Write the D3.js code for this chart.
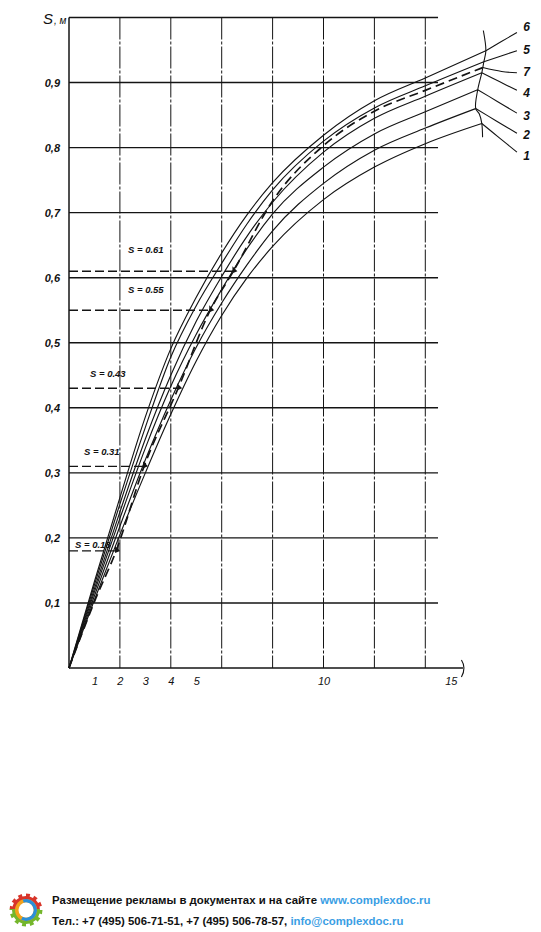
<!DOCTYPE html>
<html><head><meta charset="utf-8">
<script src="https://cdn.jsdelivr.net/npm/d3@7"></script>
<style>
body{margin:0;background:#fff;}
svg{display:block;}
.hand{font-family:"Liberation Sans",Arial,sans-serif;font-style:italic;fill:#111;}
.foot{font-family:"Liberation Sans",Arial,sans-serif;font-weight:bold;font-size:11.4px;fill:#111;}
</style></head>
<body>
<svg id="c" width="541" height="932"></svg>
<script>
// ---- data ----
const tGrid = [0, 1, 2, 3, 4, 5, 6, 7, 8, 10, 12, 14];
const curve1 = [0, 0.105, 0.205, 0.300, 0.390, 0.472, 0.542, 0.600, 0.648, 0.720, 0.770, 0.806];
const curve2 = [0, 0.111, 0.218, 0.320, 0.412, 0.493, 0.561, 0.620, 0.672, 0.745, 0.796, 0.830];
const curve3 = [0, 0.117, 0.230, 0.338, 0.433, 0.513, 0.582, 0.645, 0.698, 0.770, 0.821, 0.855];
const curve4 = [0, 0.122, 0.240, 0.352, 0.450, 0.533, 0.602, 0.664, 0.716, 0.793, 0.845, 0.879];
const curve5 = [0, 0.128, 0.252, 0.370, 0.478, 0.557, 0.622, 0.683, 0.735, 0.810, 0.861, 0.895];
const curve6 = [0, 0.133, 0.262, 0.386, 0.491, 0.570, 0.638, 0.697, 0.746, 0.819, 0.872, 0.907];
// end points of curves 1..6 (t, S)
const endT = [16.22, 15.98, 16.06, 16.22, 16.30, 16.38];
const endS = [0.837, 0.860, 0.889, 0.915, 0.932, 0.949];
// curve 7 (dashed)
const curve7T = [0, 1, 1.85, 2.95, 4.29, 5.55, 6.46, 8, 10, 12, 14, 16.26];
const curve7S = [0, 0.102, 0.18, 0.31, 0.43, 0.55, 0.61, 0.718, 0.803, 0.856, 0.888, 0.923];
// measured levels
const levelS = [0.61, 0.55, 0.43, 0.31, 0.18];
const levelT = [6.46, 5.55, 4.29, 2.95, 1.85];
const levelText = ["S = 0.61", "S = 0.55", "S = 0.43", "S = 0.31", "S = 0.18"];
// curve labels
const curveNames = ["6", "5", "7", "4", "3", "2", "1"];
const labelS = [0.985, 0.951, 0.917, 0.885, 0.849, 0.819, 0.788];
const leaderS = [0.977, 0.949, 0.915, 0.888, 0.853, 0.822, 0.793];
// ticks
const xTicks = [1, 2, 3, 4, 5, 10, 15];
const xGrid = [2, 4, 6, 8, 10, 12, 14];
const yTicks = [0.1, 0.2, 0.3, 0.4, 0.5, 0.6, 0.7, 0.8, 0.9];
const yGrid = [0.1, 0.2, 0.3, 0.4, 0.5, 0.6, 0.7, 0.8, 0.9, 1.0];

// ---- drawing ----
const svg = d3.select("#c");
const x = d3.scaleLinear().domain([0, 15]).range([69, 450.75]);
const y = d3.scaleLinear().domain([0, 1]).range([668, 17.5]);
const ink = "#141414";

// grid
svg.append("g").selectAll("line").data(yGrid).join("line")
  .attr("x1", x(0)).attr("x2", x(14.5)).attr("y1", d => y(d)).attr("y2", d => y(d))
  .attr("stroke", ink).attr("stroke-width", 1.4);
svg.append("g").selectAll("line").data(xGrid).join("line")
  .attr("x1", d => x(d)).attr("x2", d => x(d)).attr("y1", y(1)).attr("y2", y(0))
  .attr("stroke", ink).attr("stroke-width", 1).attr("stroke-dasharray", "22,2,3,2");

// axes
const xAxis = d3.axisBottom(x).tickValues(xTicks).tickSize(0).tickPadding(9).tickFormat(d3.format("d"));
const gx = svg.append("g").attr("transform", `translate(0,${y(0)})`).call(xAxis);
gx.select(".domain").remove();
gx.selectAll("text").attr("class", "hand").attr("font-size", 11).attr("fill", ink);
svg.append("line").attr("x1", x(0)).attr("x2", x(15.48)).attr("y1", y(0)).attr("y2", y(0))
  .attr("stroke", ink).attr("stroke-width", 1.6);
svg.append("path").attr("d", `M${x(15.42)},${y(0)-8} Q${x(15.62)},${y(0)} ${x(15.42)},${y(0)+9}`)
  .attr("fill", "none").attr("stroke", ink).attr("stroke-width", 1.1);

const yAxis = d3.axisLeft(y).tickValues(yTicks).tickSize(0).tickPadding(9).tickFormat(d => d3.format(".1f")(d).replace(".", ","));
const gy = svg.append("g").attr("transform", `translate(${x(0)},0)`).call(yAxis);
gy.select(".domain").remove();
gy.selectAll("text").attr("class", "hand").attr("font-size", 11).attr("font-weight", "bold").attr("fill", ink);
svg.append("line").attr("x1", x(0)).attr("x2", x(0)).attr("y1", y(1)).attr("y2", y(0))
  .attr("stroke", ink).attr("stroke-width", 1.5);

// axis title
const tt = svg.append("text").attr("class", "hand").attr("x", 43).attr("y", 24);
tt.append("tspan").attr("font-size", 15).text("S");
tt.append("tspan").attr("font-size", 10).attr("dx", 1).text(", м");

// curves
const line = d3.line().x(d => x(d[0])).y(d => y(d[1])).curve(d3.curveMonotoneX);
const solid = [curve1, curve2, curve3, curve4, curve5, curve6];
solid.forEach((c, i) => {
  const pts = tGrid.map((t, j) => [t, c[j]]).concat([[endT[i], endS[i]]]);
  svg.append("path").attr("d", line(pts)).attr("fill", "none")
    .attr("stroke", ink).attr("stroke-width", 1.15);
});
svg.append("path").attr("d", line(curve7T.map((t, j) => [t, curve7S[j]])))
  .attr("fill", "none").attr("stroke", ink).attr("stroke-width", 1.7)
  .attr("stroke-dasharray", "9,5");

// measured levels
levelS.forEach((s, i) => {
  svg.append("line").attr("x1", x(0)).attr("x2", x(levelT[i])).attr("y1", y(s)).attr("y2", y(s))
    .attr("stroke", ink).attr("stroke-width", 1.4).attr("stroke-dasharray", "9,4");
  const px = x(levelT[i]), py = y(s);
  svg.append("path").attr("d", `M${px-1},${py-5} L${px+4},${py} L${px-1},${py+2} Z`).attr("fill", ink);
});
const textPos = [[128, 0.638], [128, 0.576], [90, 0.447], [84, 0.327], [75, 0.184]];
levelText.forEach((tx, i) => {
  svg.append("text").attr("class", "hand").attr("font-size", 9.5).attr("font-weight", "bold")
    .attr("x", textPos[i][0]).attr("y", y(textPos[i][1])).text(tx);
});
// small box edge for S=0.18
svg.append("line").attr("x1", x(1.93)).attr("x2", x(1.93)).attr("y1", y(0.2)).attr("y2", y(0.18))
  .attr("stroke", ink).attr("stroke-width", 1);

// bracket through curve ends
const ends = [[16.28, 0.98], [endT[5], endS[5]], [endT[4], endS[4]], [curve7T[11], curve7S[11]],
  [endT[3], endS[3]], [endT[2], endS[2]], [endT[1], endS[1]], [16.12, 0.852], [endT[0], endS[0]], [16.25, 0.816]];
const bline = d3.line().x(d => x(d[0])).y(d => y(d[1])).curve(d3.curveCatmullRom);
svg.append("path").attr("d", bline(ends)).attr("fill", "none").attr("stroke", ink).attr("stroke-width", 1.1);

// leaders & labels
const startPts = [[endT[5], endS[5]], [endT[4], endS[4]], [curve7T[11], curve7S[11]],
  [endT[3], endS[3]], [endT[2], endS[2]], [endT[1], endS[1]], [endT[0], endS[0]]];
curveNames.forEach((n, i) => {
  const s = startPts[i];
  const mid = i === 2 ? [17.0, (s[1] + leaderS[i]) / 2 - 0.002] : [(s[0] + 17.6) / 2, (s[1] + leaderS[i]) / 2];
  svg.append("path").attr("d", d3.line().x(d => x(d[0])).y(d => y(d[1])).curve(d3.curveCatmullRom)([s, mid, [17.6, leaderS[i]]]))
    .attr("fill", "none").attr("stroke", ink).attr("stroke-width", 1.1);
  svg.append("text").attr("class", "hand").attr("font-size", 12).attr("font-weight", "bold")
    .attr("x", x(17.85)).attr("y", y(labelS[i])).attr("dy", "0.35em").text(n);
});

// footer logo
const lg = svg.append("g").attr("transform", "translate(26,910)");
const teeth = 12;
let gp = "";
for (let k = 0; k < teeth * 2; k++) {
  const a0 = k * Math.PI / teeth, a1 = (k + 1) * Math.PI / teeth;
  const r = k % 2 === 0 ? 16.5 : 14;
  gp += (k === 0 ? "M" : "L") + (r * Math.cos(a0)).toFixed(2) + "," + (r * Math.sin(a0)).toFixed(2)
     + "L" + (r * Math.cos(a1)).toFixed(2) + "," + (r * Math.sin(a1)).toFixed(2);
}
gp += "Z";
lg.append("clipPath").attr("id", "top").append("rect").attr("x", -20).attr("y", -20).attr("width", 40).attr("height", 19);
lg.append("clipPath").attr("id", "bot").append("rect").attr("x", -20).attr("y", -1).attr("width", 40).attr("height", 21);
lg.append("path").attr("d", gp).attr("fill", "#d8352a").attr("clip-path", "url(#top)");
lg.append("path").attr("d", gp).attr("fill", "#74b62b").attr("clip-path", "url(#bot)");
lg.append("circle").attr("r", 11).attr("fill", "#f3a21c");
lg.append("path").attr("d", d3.arc()({innerRadius: 7.5, outerRadius: 11, startAngle: -0.3, endAngle: 3.6})).attr("fill", "#2b8fd8");
lg.append("circle").attr("r", 7.5).attr("fill", "#fff");

const f1 = svg.append("text").attr("class", "foot").attr("x", 52).attr("y", 903.5);
f1.append("tspan").text("Размещение рекламы в документах и на сайте ");
f1.append("tspan").attr("fill", "#3a9ee4").text("www.complexdoc.ru");
const f2 = svg.append("text").attr("class", "foot").attr("x", 52).attr("y", 925);
f2.append("tspan").text("Тел.: +7 (495) 506-71-51, +7 (495) 506-78-57, ");
f2.append("tspan").attr("fill", "#3a9ee4").text("info@complexdoc.ru");
</script>
</body></html>
